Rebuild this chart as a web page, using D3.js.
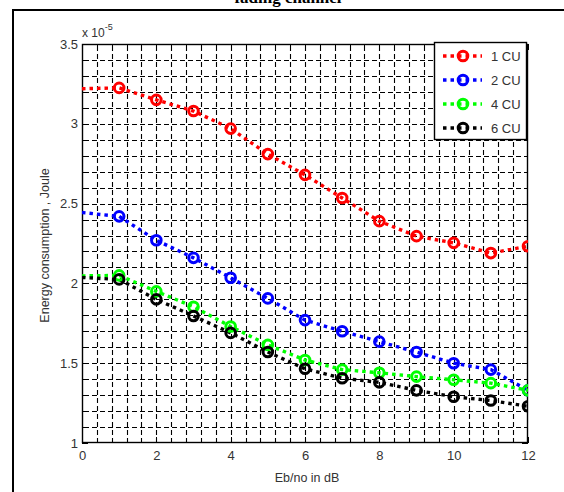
<!DOCTYPE html>
<html><head><meta charset="utf-8">
<script src="https://cdn.jsdelivr.net/npm/d3@7"></script>
<style>
html,body{margin:0;padding:0;background:#fff;}
svg{display:block;}
text{font-family:"Liberation Sans",Arial,sans-serif;}
</style></head>
<body>
<svg id="chart" width="564" height="492"></svg>
<script>
const xValues = [0,1,2,3,4,5,6,7,8,9,10,11,12];
const cu1 = [3.22, 3.225, 3.15, 3.08, 2.97, 2.81, 2.68, 2.535, 2.39, 2.296, 2.254, 2.19, 2.233];
const cu2 = [2.444, 2.42, 2.27, 2.16, 2.035, 1.906, 1.77, 1.70, 1.635, 1.57, 1.50, 1.46, 1.33];
const cu4 = [2.047, 2.05, 1.95, 1.854, 1.73, 1.615, 1.52, 1.46, 1.44, 1.416, 1.396, 1.375, 1.33];
const cu6 = [2.037, 2.025, 1.90, 1.796, 1.69, 1.57, 1.465, 1.406, 1.38, 1.33, 1.29, 1.266, 1.23];
const seriesNames = ["1 CU", "2 CU", "4 CU", "6 CU"];
const seriesColors = ["#ff0000", "#0000ff", "#00ff00", "#000000"];
const xTickLabels = [0,2,4,6,8,10,12];
const yTickLabels = [1,1.5,2,2.5,3,3.5];

const series = [cu1, cu2, cu4, cu6].map((v,i)=>({name:seriesNames[i], color:seriesColors[i], values:v}));

const svg = d3.select("#chart");
const L = 82, R = 528, T = 44, B = 443;
const x = d3.scaleLinear().domain([0,12]).range([L,R]);
const y = d3.scaleLinear().domain([1,3.5]).range([B,T]);

// outer frame
svg.append("line").attr("x1",13).attr("x2",13).attr("y1",9).attr("y2",492).attr("stroke","#000").attr("stroke-width",2);
svg.append("line").attr("x1",12).attr("x2",564).attr("y1",10).attr("y2",10).attr("stroke","#000").attr("stroke-width",2);

// cut-off title (as in the reference)
svg.append("text").attr("x",288).attr("y",3).attr("text-anchor","middle")
  .style("font-family","'Liberation Serif','Times New Roman',serif").style("font-weight","bold").style("font-size","17px")
  .text("fading channel");

svg.append("defs").append("clipPath").attr("id","clip").append("rect")
  .attr("x",L).attr("y",T).attr("width",R-L).attr("height",B-T);

// grid
const xGrid = d3.range(0, 12.001, 0.4);
const yGrid = d3.range(1, 3.5001, 0.1);
const g = svg.append("g");
g.selectAll(".vg").data(xGrid.slice(1,-1)).join("line")
  .attr("x1",d=>Math.round(x(d))+0.5).attr("x2",d=>Math.round(x(d))+0.5)
  .attr("y1",T).attr("y2",B)
  .attr("stroke","#000").attr("stroke-width",1.1).attr("stroke-dasharray","5,3").attr("stroke-dashoffset",-2);
g.selectAll(".hg").data(yGrid.slice(1,-1)).join("line")
  .attr("y1",d=>Math.round(y(d))+0.5).attr("y2",d=>Math.round(y(d))+0.5)
  .attr("x1",L).attr("x2",R)
  .attr("stroke","#000").attr("stroke-width",1.1).attr("stroke-dasharray","5,3").attr("stroke-dashoffset",-2);

// axes box
svg.append("rect").attr("x",L+0.5).attr("y",T+0.5).attr("width",R-L-1).attr("height",B-T-1)
  .attr("fill","none").attr("stroke","#000").attr("stroke-width",1.4);

// inward ticks
const tk = svg.append("g").attr("stroke","#000").attr("stroke-width",1);
xGrid.forEach(d=>{
  const major = Math.abs(d/2 - Math.round(d/2))<1e-6;
  const len = major?6:3;
  const px = Math.round(x(d))+0.5;
  tk.append("line").attr("x1",px).attr("x2",px).attr("y1",B).attr("y2",B-len);
  tk.append("line").attr("x1",px).attr("x2",px).attr("y1",T).attr("y2",T+len);
});
yGrid.forEach(d=>{
  const major = Math.abs(d/0.5 - Math.round(d/0.5))<1e-6;
  const len = major?6:3;
  const py = Math.round(y(d))+0.5;
  tk.append("line").attr("y1",py).attr("y2",py).attr("x1",L).attr("x2",L+len);
  tk.append("line").attr("y1",py).attr("y2",py).attr("x1",R).attr("x2",R-len);
});

// tick labels via axes
const xAxis = svg.append("g").attr("transform",`translate(0,${B})`)
  .call(d3.axisBottom(x).tickValues(xTickLabels).tickSize(0).tickPadding(8).tickFormat(d3.format("d")));
const yAxis = svg.append("g").attr("transform",`translate(${L},0)`)
  .call(d3.axisLeft(y).tickValues(yTickLabels).tickSize(0).tickPadding(4).tickFormat(d=>String(d)));
[xAxis,yAxis].forEach(a=>{
  a.select(".domain").remove();
  a.selectAll("text").style("font-size","13px").attr("fill","#333").style("font-family","'Liberation Sans',Arial,sans-serif");
});
yAxis.selectAll(".tick text").attr("dy","0.32em");

// exponent label
const ex = svg.append("text").attr("x",82).attr("y",37).attr("fill","#333").style("font-size","12px");
ex.append("tspan").text("x 10");
ex.append("tspan").attr("dy",-7).style("font-size","9px").text("-5");

// axis titles
svg.append("text").attr("x",(L+R)/2 + 2).attr("y",482).attr("text-anchor","middle").attr("fill","#333")
  .style("font-size","12.5px").text("Eb/no in dB");
svg.append("text").attr("transform",`translate(49,${(T+B)/2 + 2}) rotate(-90)`).attr("text-anchor","middle").attr("fill","#333")
  .style("font-size","12.5px").text("Energy consumption , Joule");

// lines
const line = d3.line().x((d,i)=>x(xValues[i])).y(d=>y(d));
const plot = svg.append("g").attr("clip-path","url(#clip)");
series.forEach(s=>{
  plot.append("path").datum(s.values).attr("d",line).attr("fill","none")
    .attr("stroke",s.color).attr("stroke-width",3.4).attr("stroke-dasharray","3.5,4");
});
series.forEach(s=>{
  plot.selectAll(null).data(s.values.map((v,i)=>({x:xValues[i],v})).filter(d=>d.x>0)).join("circle")
    .attr("cx",d=>x(d.x)).attr("cy",d=>y(d.v)).attr("r",4.8)
    .attr("fill","none").attr("stroke",s.color).attr("stroke-width",3);
});

// legend
const lg = svg.append("g");
lg.append("rect").attr("x",434.5).attr("y",42.5).attr("width",92).attr("height",97)
  .attr("fill","#fff").attr("stroke","#000").attr("stroke-width",1.4);
series.forEach((s,i)=>{
  const ry = 56 + i*24;
  lg.append("line").attr("x1",443).attr("x2",482).attr("y1",ry).attr("y2",ry)
    .attr("stroke",s.color).attr("stroke-width",3.4).attr("stroke-dasharray","3.5,4");
  lg.append("circle").attr("cx",463).attr("cy",ry).attr("r",4.8).attr("fill","none")
    .attr("stroke",s.color).attr("stroke-width",3);
  lg.append("text").attr("x",491).attr("y",ry).attr("dy","0.35em").attr("fill","#333")
    .style("font-size","13px").text(s.name);
});
</script>
</body></html>
